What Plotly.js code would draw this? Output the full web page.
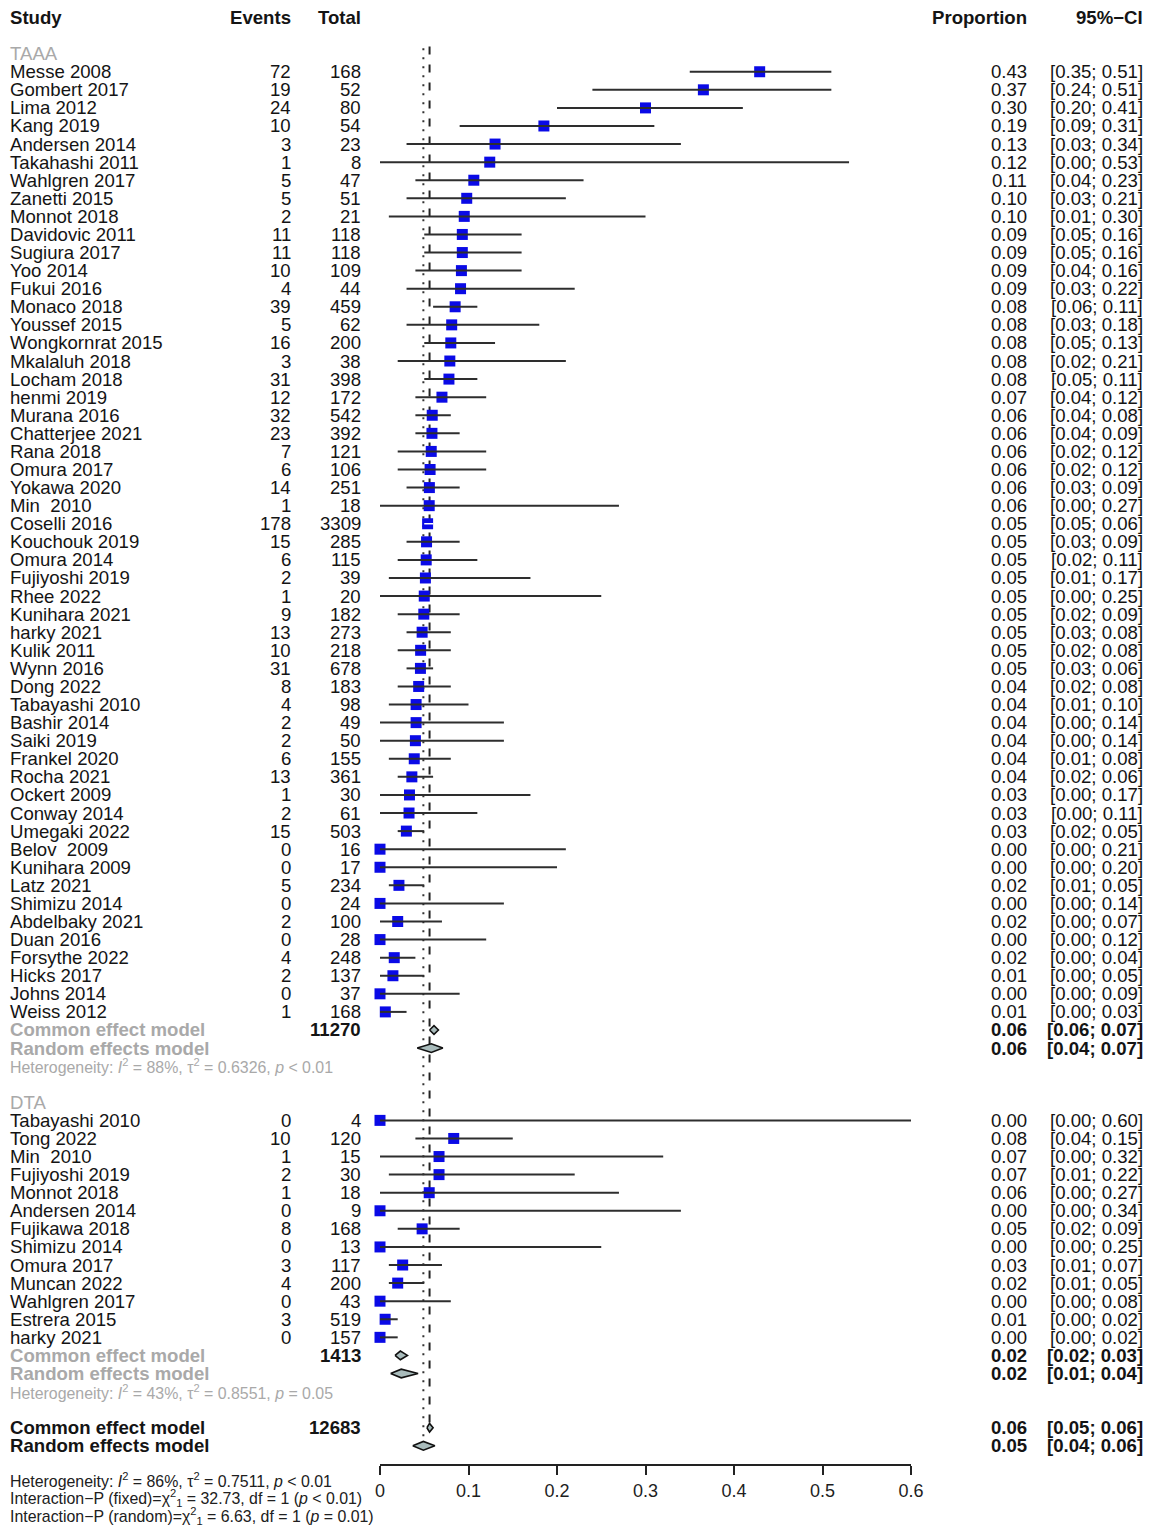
<!DOCTYPE html>
<html>
<head>
<meta charset="utf-8">
<script src="https://cdn.plot.ly/plotly-3.0.1.min.js"></script>
<style>html,body{margin:0;padding:0;background:#fff;}</style>
</head>
<body>
<div id="chart" style="width:1150px;height:1529px;"></div>
<script>
// ---- Study-level data: TAAA subgroup ----
const taaaStudy = ['Messe 2008','Gombert 2017','Lima 2012','Kang 2019','Andersen 2014','Takahashi 2011',
  'Wahlgren 2017','Zanetti 2015','Monnot 2018','Davidovic 2011','Sugiura 2017','Yoo 2014','Fukui 2016',
  'Monaco 2018','Youssef 2015','Wongkornrat 2015','Mkalaluh 2018','Locham 2018','henmi 2019','Murana 2016',
  'Chatterjee 2021','Rana 2018','Omura 2017','Yokawa 2020','Min\u00a0 2010','Coselli 2016','Kouchouk 2019',
  'Omura 2014','Fujiyoshi 2019','Rhee 2022','Kunihara 2021','harky 2021','Kulik 2011','Wynn 2016','Dong 2022',
  'Tabayashi 2010','Bashir 2014','Saiki 2019','Frankel 2020','Rocha 2021','Ockert 2009','Conway 2014',
  'Umegaki 2022','Belov\u00a0 2009','Kunihara 2009','Latz 2021','Shimizu 2014','Abdelbaky 2021','Duan 2016',
  'Forsythe 2022','Hicks 2017','Johns 2014','Weiss 2012'];
const taaaEvents = [72,19,24,10,3,1,5,5,2,11,11,10,4,39,5,16,3,31,12,32,23,7,6,14,1,178,15,6,2,1,9,13,10,31,8,
  4,2,2,6,13,1,2,15,0,0,5,0,2,0,4,2,0,1];
const taaaTotal = [168,52,80,54,23,8,47,51,21,118,118,109,44,459,62,200,38,398,172,542,392,121,106,251,18,3309,
  285,115,39,20,182,273,218,678,183,98,49,50,155,361,30,61,503,16,17,234,24,100,28,248,137,37,168];
const taaaProp = [0.429,0.3654,0.300,0.1852,0.130,0.124,0.106,0.098,0.0952,0.093,0.093,0.092,0.091,0.0849,0.081,
  0.080,0.0789,0.0779,0.070,0.059,0.0587,0.0579,0.0566,0.0558,0.0556,0.0538,0.0526,0.0522,0.0513,0.050,0.0495,
  0.0476,0.0459,0.0457,0.0437,0.0408,0.0408,0.040,0.0387,0.036,0.0333,0.0328,0.0298,0,0,0.0214,0,0.020,0,
  0.0161,0.0146,0,0.006];
const taaaLower = [0.35,0.24,0.20,0.09,0.03,0.00,0.04,0.03,0.01,0.05,0.05,0.04,0.03,0.06,0.03,0.05,0.02,0.05,0.04,
  0.04,0.04,0.02,0.02,0.03,0.00,0.05,0.03,0.02,0.01,0.00,0.02,0.03,0.02,0.03,0.02,0.01,0.00,0.00,0.01,0.02,0.00,
  0.00,0.02,0.00,0.00,0.01,0.00,0.00,0.00,0.00,0.00,0.00,0.00];
const taaaUpper = [0.51,0.51,0.41,0.31,0.34,0.53,0.23,0.21,0.30,0.16,0.16,0.16,0.22,0.11,0.18,0.13,0.21,0.11,0.12,
  0.08,0.09,0.12,0.12,0.09,0.27,0.06,0.09,0.11,0.17,0.25,0.09,0.08,0.08,0.06,0.08,0.10,0.14,0.14,0.08,0.06,0.17,
  0.11,0.05,0.21,0.20,0.05,0.14,0.07,0.12,0.04,0.05,0.09,0.03];

// ---- Study-level data: DTA subgroup ----
const dtaStudy = ['Tabayashi 2010','Tong 2022','Min\u00a0 2010','Fujiyoshi 2019','Monnot 2018','Andersen 2014',
  'Fujikawa 2018','Shimizu 2014','Omura 2017','Muncan 2022','Wahlgren 2017','Estrera 2015','harky 2021'];
const dtaEvents = [0,10,1,2,1,0,8,0,3,4,0,3,0];
const dtaTotal = [4,120,15,30,18,9,168,13,117,200,43,519,157];
const dtaProp = [0,0.0833,0.0667,0.0667,0.0556,0,0.0476,0,0.0256,0.020,0,0.0058,0];
const dtaLower = [0.00,0.04,0.00,0.01,0.00,0.00,0.02,0.00,0.01,0.01,0.00,0.00,0.00];
const dtaUpper = [0.60,0.15,0.32,0.22,0.27,0.34,0.09,0.25,0.07,0.05,0.08,0.02,0.02];

// ---- Subgroup summaries ----
const groupName = ['TAAA', 'DTA'];
const groupTotal = [11270, 1413];
const groupCommonEst = [0.061, 0.023];
const groupCommonLower = [0.056, 0.017];
const groupCommonUpper = [0.066, 0.031];
const groupRandomEst = [0.058, 0.024];
const groupRandomLower = [0.042, 0.012];
const groupRandomUpper = [0.071, 0.043];
const groupHet = [
  'Heterogeneity: <i>I</i><sup>2</sup> = 88%, τ<sup>2</sup> = 0.6326, <i>p</i> < 0.01',
  'Heterogeneity: <i>I</i><sup>2</sup> = 43%, τ<sup>2</sup> = 0.8551, <i>p</i> = 0.05'
];

// ---- Overall summaries ----
const overallTotal = 12683;
const overallCommon = [0.056, 0.053, 0.060];   // estimate, lower, upper
const overallRandom = [0.049, 0.037, 0.062];
const footerText = [
  'Heterogeneity: <i>I</i><sup>2</sup> = 86%, τ<sup>2</sup> = 0.7511, <i>p</i> < 0.01',
  'Interaction−P (fixed)=χ<sup>2</sup><sub>1</sub> = 32.73, df = 1 (<i>p</i> < 0.01)',
  'Interaction−P (random)=χ<sup>2</sup><sub>1</sub> = 6.63, df = 1 (<i>p</i> = 0.01)'
];

const axisTicks = [0, 0.1, 0.2, 0.3, 0.4, 0.5, 0.6];
const axisTickText = ['0', '0.1', '0.2', '0.3', '0.4', '0.5', '0.6'];

// ---- Layout geometry ----
const W = 1150, H = 1529;
const ROW = 18.08, TOP = 17.5;
const PLOT_L = 380, PLOT_R = 911;
const FONT = '"Liberation Sans", Arial, Helvetica, sans-serif';
const INK = '#141414', GREY = '#a9a9a9';
const X_STUDY = 10, X_EVENTS = 291, X_TOTAL = 361, X_PROP = 1027, X_CI = 1143;
const MAIN_SIZE = 18.6, SMALL_SIZE = 15.9;
const SQUARE = 11;

const annotations = [];
function txt(xpx, row, text, opt) {
  opt = opt || {};
  annotations.push({
    xref: 'paper', yref: 'y', x: xpx / W, y: -row,
    xanchor: opt.anchor || 'left', yanchor: 'middle',
    text: opt.bold ? '<b>' + text + '</b>' : text,
    showarrow: false, borderpad: 0, borderwidth: 0,
    font: {family: FONT, size: opt.size || MAIN_SIZE, color: opt.color || INK}
  });
}
const f2 = v => v.toFixed(2);
const ciText = (lo, hi) => '[' + f2(lo) + '; ' + f2(hi) + ']';

// Column headers
txt(X_STUDY, 0, 'Study', {bold: true});
txt(X_EVENTS, 0, 'Events', {bold: true, anchor: 'right'});
txt(X_TOTAL, 0, 'Total', {bold: true, anchor: 'right'});
txt(X_PROP, 0, 'Proportion', {bold: true, anchor: 'right'});
txt(X_CI, 0, '95%−CI', {bold: true, anchor: 'right'});

const groups = [
  {study: taaaStudy, events: taaaEvents, total: taaaTotal, prop: taaaProp, lo: taaaLower, hi: taaaUpper},
  {study: dtaStudy, events: dtaEvents, total: dtaTotal, prop: dtaProp, lo: dtaLower, hi: dtaUpper}
];

const sqX = [], sqY = [];
const lineX = [], lineY = [], innerX = [], innerY = [];
const diamonds = [];
const pxPerUnit = (PLOT_R - PLOT_L) / 0.6;

let row = 2;
groups.forEach((g, gi) => {
  txt(X_STUDY, row, groupName[gi], {color: GREY});
  row++;
  g.study.forEach((name, i) => {
    txt(X_STUDY, row, name);
    txt(X_EVENTS, row, String(g.events[i]), {anchor: 'right'});
    txt(X_TOTAL, row, String(g.total[i]), {anchor: 'right'});
    txt(X_PROP, row, f2(g.prop[i]), {anchor: 'right'});
    txt(X_CI, row, ciText(g.lo[i], g.hi[i]), {anchor: 'right'});
    sqX.push(g.prop[i]); sqY.push(-row);
    // a CI narrower than the box is drawn in white on top of it
    const inside = (g.hi[i] - g.lo[i]) * pxPerUnit < SQUARE;
    const tx = inside ? innerX : lineX, ty = inside ? innerY : lineY;
    tx.push(g.lo[i], g.hi[i], null); ty.push(-row, -row, null);
    row++;
  });
  // common effect
  txt(X_STUDY, row, 'Common effect model', {bold: true, color: GREY});
  txt(X_TOTAL, row, String(groupTotal[gi]), {bold: true, anchor: 'right'});
  txt(X_PROP, row, f2(groupCommonEst[gi]), {bold: true, anchor: 'right'});
  txt(X_CI, row, ciText(groupCommonLower[gi], groupCommonUpper[gi]), {bold: true, anchor: 'right'});
  diamonds.push([groupCommonLower[gi], groupCommonEst[gi], groupCommonUpper[gi], row]);
  row++;
  // random effects
  txt(X_STUDY, row, 'Random effects model', {bold: true, color: GREY});
  txt(X_PROP, row, f2(groupRandomEst[gi]), {bold: true, anchor: 'right'});
  txt(X_CI, row, ciText(groupRandomLower[gi], groupRandomUpper[gi]), {bold: true, anchor: 'right'});
  diamonds.push([groupRandomLower[gi], groupRandomEst[gi], groupRandomUpper[gi], row]);
  row++;
  txt(X_STUDY, row, groupHet[gi], {size: SMALL_SIZE, color: GREY});
  row += 2;
});

// overall
txt(X_STUDY, row, 'Common effect model', {bold: true});
txt(X_TOTAL, row, String(overallTotal), {bold: true, anchor: 'right'});
txt(X_PROP, row, f2(overallCommon[0]), {bold: true, anchor: 'right'});
txt(X_CI, row, ciText(overallCommon[1], overallCommon[2]), {bold: true, anchor: 'right'});
diamonds.push([overallCommon[1], overallCommon[0], overallCommon[2], row]);
const commonRow = row;
row++;
txt(X_STUDY, row, 'Random effects model', {bold: true});
txt(X_PROP, row, f2(overallRandom[0]), {bold: true, anchor: 'right'});
txt(X_CI, row, ciText(overallRandom[1], overallRandom[2]), {bold: true, anchor: 'right'});
diamonds.push([overallRandom[1], overallRandom[0], overallRandom[2], row]);
const randomRow = row;

footerText.forEach((t, i) => txt(X_STUDY, 80.9 + i, t, {size: SMALL_SIZE, color: '#202020'}));

// ---- Traces ----
const traces = [];
traces.push({
  type: 'scatter', mode: 'markers', x: sqX, y: sqY, cliponaxis: false, hoverinfo: 'skip',
  marker: {symbol: 'square', size: SQUARE, color: '#0a0ae6', line: {width: 0}}
});
traces.push({
  type: 'scatter', mode: 'lines', x: lineX, y: lineY, cliponaxis: false, hoverinfo: 'skip',
  connectgaps: false, line: {color: '#2e2e2e', width: 2}
});
traces.push({
  type: 'scatter', mode: 'lines', x: innerX, y: innerY, cliponaxis: false, hoverinfo: 'skip',
  connectgaps: false, line: {color: '#ffffff', width: 1.5}
});
const HALF = 0.24;
diamonds.forEach(d => {
  const [lo, est, hi, r] = d;
  traces.push({
    type: 'scatter', mode: 'lines', fill: 'toself', fillcolor: '#a9bcbc', cliponaxis: false, hoverinfo: 'skip',
    x: [lo, est, hi, est, lo], y: [-r, -r + HALF, -r, -r - HALF, -r],
    line: {color: '#111', width: 1.6}
  });
});

// reference lines: common effect (dashed) and random effects (dotted)
const shapes = [
  {type: 'line', xref: 'x', yref: 'y', layer: 'below', x0: overallCommon[0], x1: overallCommon[0],
   y0: -1.6, y1: -(commonRow + 0.2), line: {color: '#222', width: 2, dash: '8px,10px'}},
  {type: 'line', xref: 'x', yref: 'y', layer: 'below', x0: overallRandom[0], x1: overallRandom[0],
   y0: -1.7, y1: -(randomRow - 0.3), line: {color: '#333', width: 2, dash: '2px,7px'}}
];

const layout = {
  width: W, height: H,
  margin: {l: 0, r: 0, t: 0, b: 0, pad: 0},
  paper_bgcolor: '#ffffff', plot_bgcolor: 'rgba(0,0,0,0)',
  showlegend: false,
  xaxis: {
    domain: [PLOT_L / W, PLOT_R / W], range: [0, 0.6], anchor: 'free', position: (H - 1465) / H,
    showline: true, linecolor: '#222', linewidth: 2, ticks: 'outside', ticklen: 9, tickwidth: 2,
    tickcolor: '#222', tickvals: axisTicks, ticktext: axisTickText,
    tickfont: {family: FONT, size: 18, color: '#1e1e1e'},
    showgrid: false, zeroline: false, fixedrange: true
  },
  yaxis: {
    domain: [0, 1], range: [-(H - TOP) / ROW, TOP / ROW], visible: false,
    showgrid: false, zeroline: false, fixedrange: true
  },
  annotations: annotations,
  shapes: shapes
};

Plotly.newPlot('chart', traces, layout, {staticPlot: true, displayModeBar: false});
</script>
</body>
</html>
